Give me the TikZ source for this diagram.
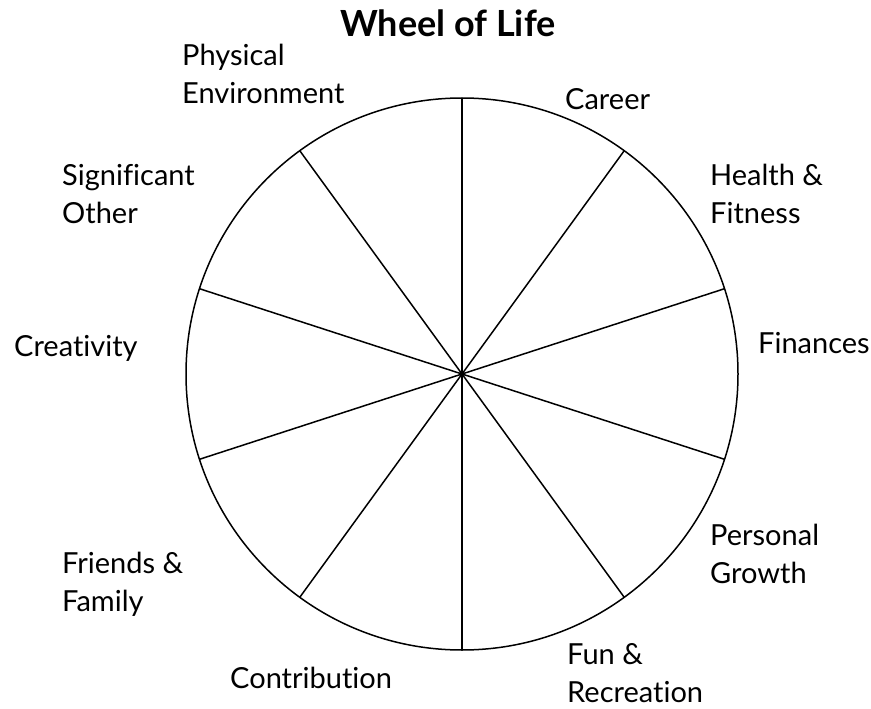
\documentclass[tikz,border=0pt]{standalone}
\usepackage{fontspec}
\setmainfont{Lato}[Ligatures=NoCommon]
\usetikzlibrary{calc}
\begin{document}
\begin{tikzpicture}[x=1pt,y=-1pt,
  lbl/.style={anchor=base west,inner sep=0pt,align=left,font=\fontsize{29}{38}\selectfont},
  ttl/.style={anchor=base,inner sep=0pt,font=\fontsize{36}{40}\selectfont\bfseries},
  wheel/.style={line width=1.5pt}]
\useasboundingbox (0,0) rectangle (871,709);
\coordinate (c) at (462,374);
\draw[wheel] (c) circle (276);
\foreach \a [count=\i] in {90,54,18,-18,-54,-90,-126,-162,162,126}{
  \coordinate (p\i) at ($(c)+(\a:276)$);
  \draw[wheel] (c) -- (p\i);
}
\node[ttl] (title) at (448,37) {Wheel of Life};
\node[lbl] (phys) at (182,103) {Physical\\Environment};
\node[lbl] (career) at (565,110) {Career};
\node[lbl] (health) at (710,223) {Health \&\\Fitness};
\node[lbl] (fin) at (758,353) {Finances};
\node[lbl] (pers) at (710,583) {Personal\\Growth};
\node[lbl] (fun) at (567,702) {Fun \&\\Recreation};
\node[lbl] (contr) at (230,688) {Contribution};
\node[lbl] (friends) at (62,611) {Friends \&\\Family};
\node[lbl] (creat) at (14,356) {Creativity};
\node[lbl] (sig) at (62,223) {Significant\\Other};
\end{tikzpicture}
\end{document}
